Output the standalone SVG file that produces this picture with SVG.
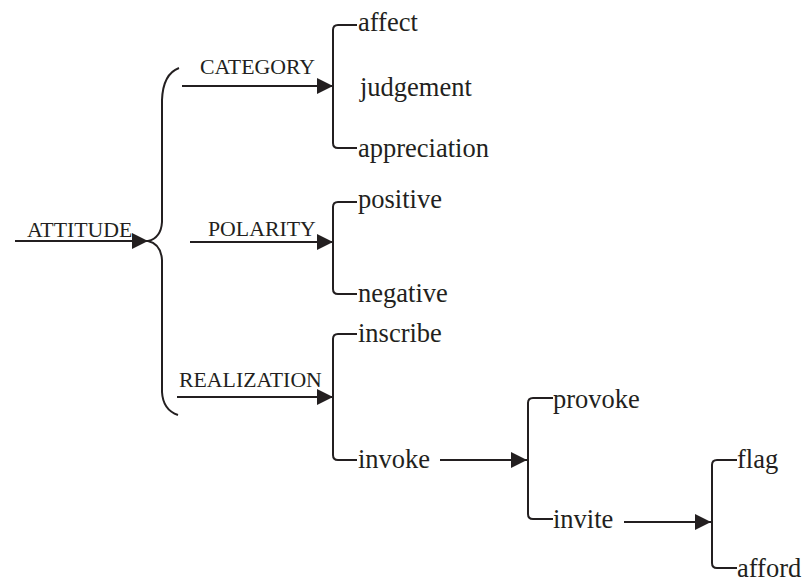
<svg xmlns="http://www.w3.org/2000/svg" width="803" height="584" viewBox="0 0 803 584">
<style>
.ln{fill:none;stroke:#231f20;stroke-width:2}
.lbl{font-family:"Liberation Serif","Times New Roman",serif;font-size:21.8px;fill:#231f20}
.it{font-family:"Liberation Serif","Times New Roman",serif;font-size:26.5px;fill:#231f20}
</style>
<defs>
<marker id="ah" markerUnits="userSpaceOnUse" markerWidth="18" markerHeight="16" refX="16" refY="8" orient="auto">
<path d="M0,0 L16,8 L0,16 Z" fill="#231f20"/>
</marker>
</defs>
<rect width="803" height="584" fill="#fff"/>
<g id="connectors">
<line class="ln" x1="15" y1="241" x2="148" y2="241" marker-end="url(#ah)"/>
<path class="ln" d="M179 68 Q163 74 162 100 L162 222 Q161 238 148 241 Q161 244 162 260 L162 392 Q163 410 178 415"/>
<line class="ln" x1="182" y1="86" x2="333" y2="86" marker-end="url(#ah)"/>
<line class="ln" x1="190" y1="242" x2="333" y2="242" marker-end="url(#ah)"/>
<line class="ln" x1="177" y1="397" x2="333" y2="397" marker-end="url(#ah)"/>
<line class="ln" x1="440" y1="460" x2="527" y2="460" marker-end="url(#ah)"/>
<line class="ln" x1="624" y1="522" x2="711" y2="522" marker-end="url(#ah)"/>
<path class="ln" d="M357 25 L338 25 Q333 25 333 30 L333 143 Q333 148 338 148 L357 148"/>
<path class="ln" d="M357 202 L338 202 Q333 202 333 207 L333 289 Q333 294 338 294 L357 294"/>
<path class="ln" d="M357 334 L338 334 Q333 334 333 339 L333 455 Q333 460 338 460 L357 460"/>
<path class="ln" d="M553 398 L533 398 Q528 398 528 403 L528 514 Q528 519 533 519 L553 519"/>
<path class="ln" d="M737 460 L717 460 Q712 460 712 465 L712 563 Q712 568 717 568 L737 568"/>
</g>
<g id="attitude"><text class="lbl" x="27" y="237">ATTITUDE</text></g>
<g id="category"><text class="lbl" x="200" y="74">CATEGORY</text></g>
<g id="polarity"><text class="lbl" x="208" y="236">POLARITY</text></g>
<g id="realization"><text class="lbl" x="179" y="387">REALIZATION</text></g>
<g id="affect"><text class="it" x="358" y="31">affect</text></g>
<g id="judgement"><text class="it" x="360" y="96">judgement</text></g>
<g id="appreciation"><text class="it" x="358" y="157">appreciation</text></g>
<g id="positive"><text class="it" x="358" y="208">positive</text></g>
<g id="negative"><text class="it" x="358" y="302">negative</text></g>
<g id="inscribe"><text class="it" x="358" y="342">inscribe</text></g>
<g id="invoke"><text class="it" x="358" y="468">invoke</text></g>
<g id="provoke"><text class="it" x="553" y="408">provoke</text></g>
<g id="invite"><text class="it" x="553" y="528">invite</text></g>
<g id="flag"><text class="it" x="737" y="468">flag</text></g>
<g id="afford"><text class="it" x="737" y="577">afford</text></g>
</svg>
